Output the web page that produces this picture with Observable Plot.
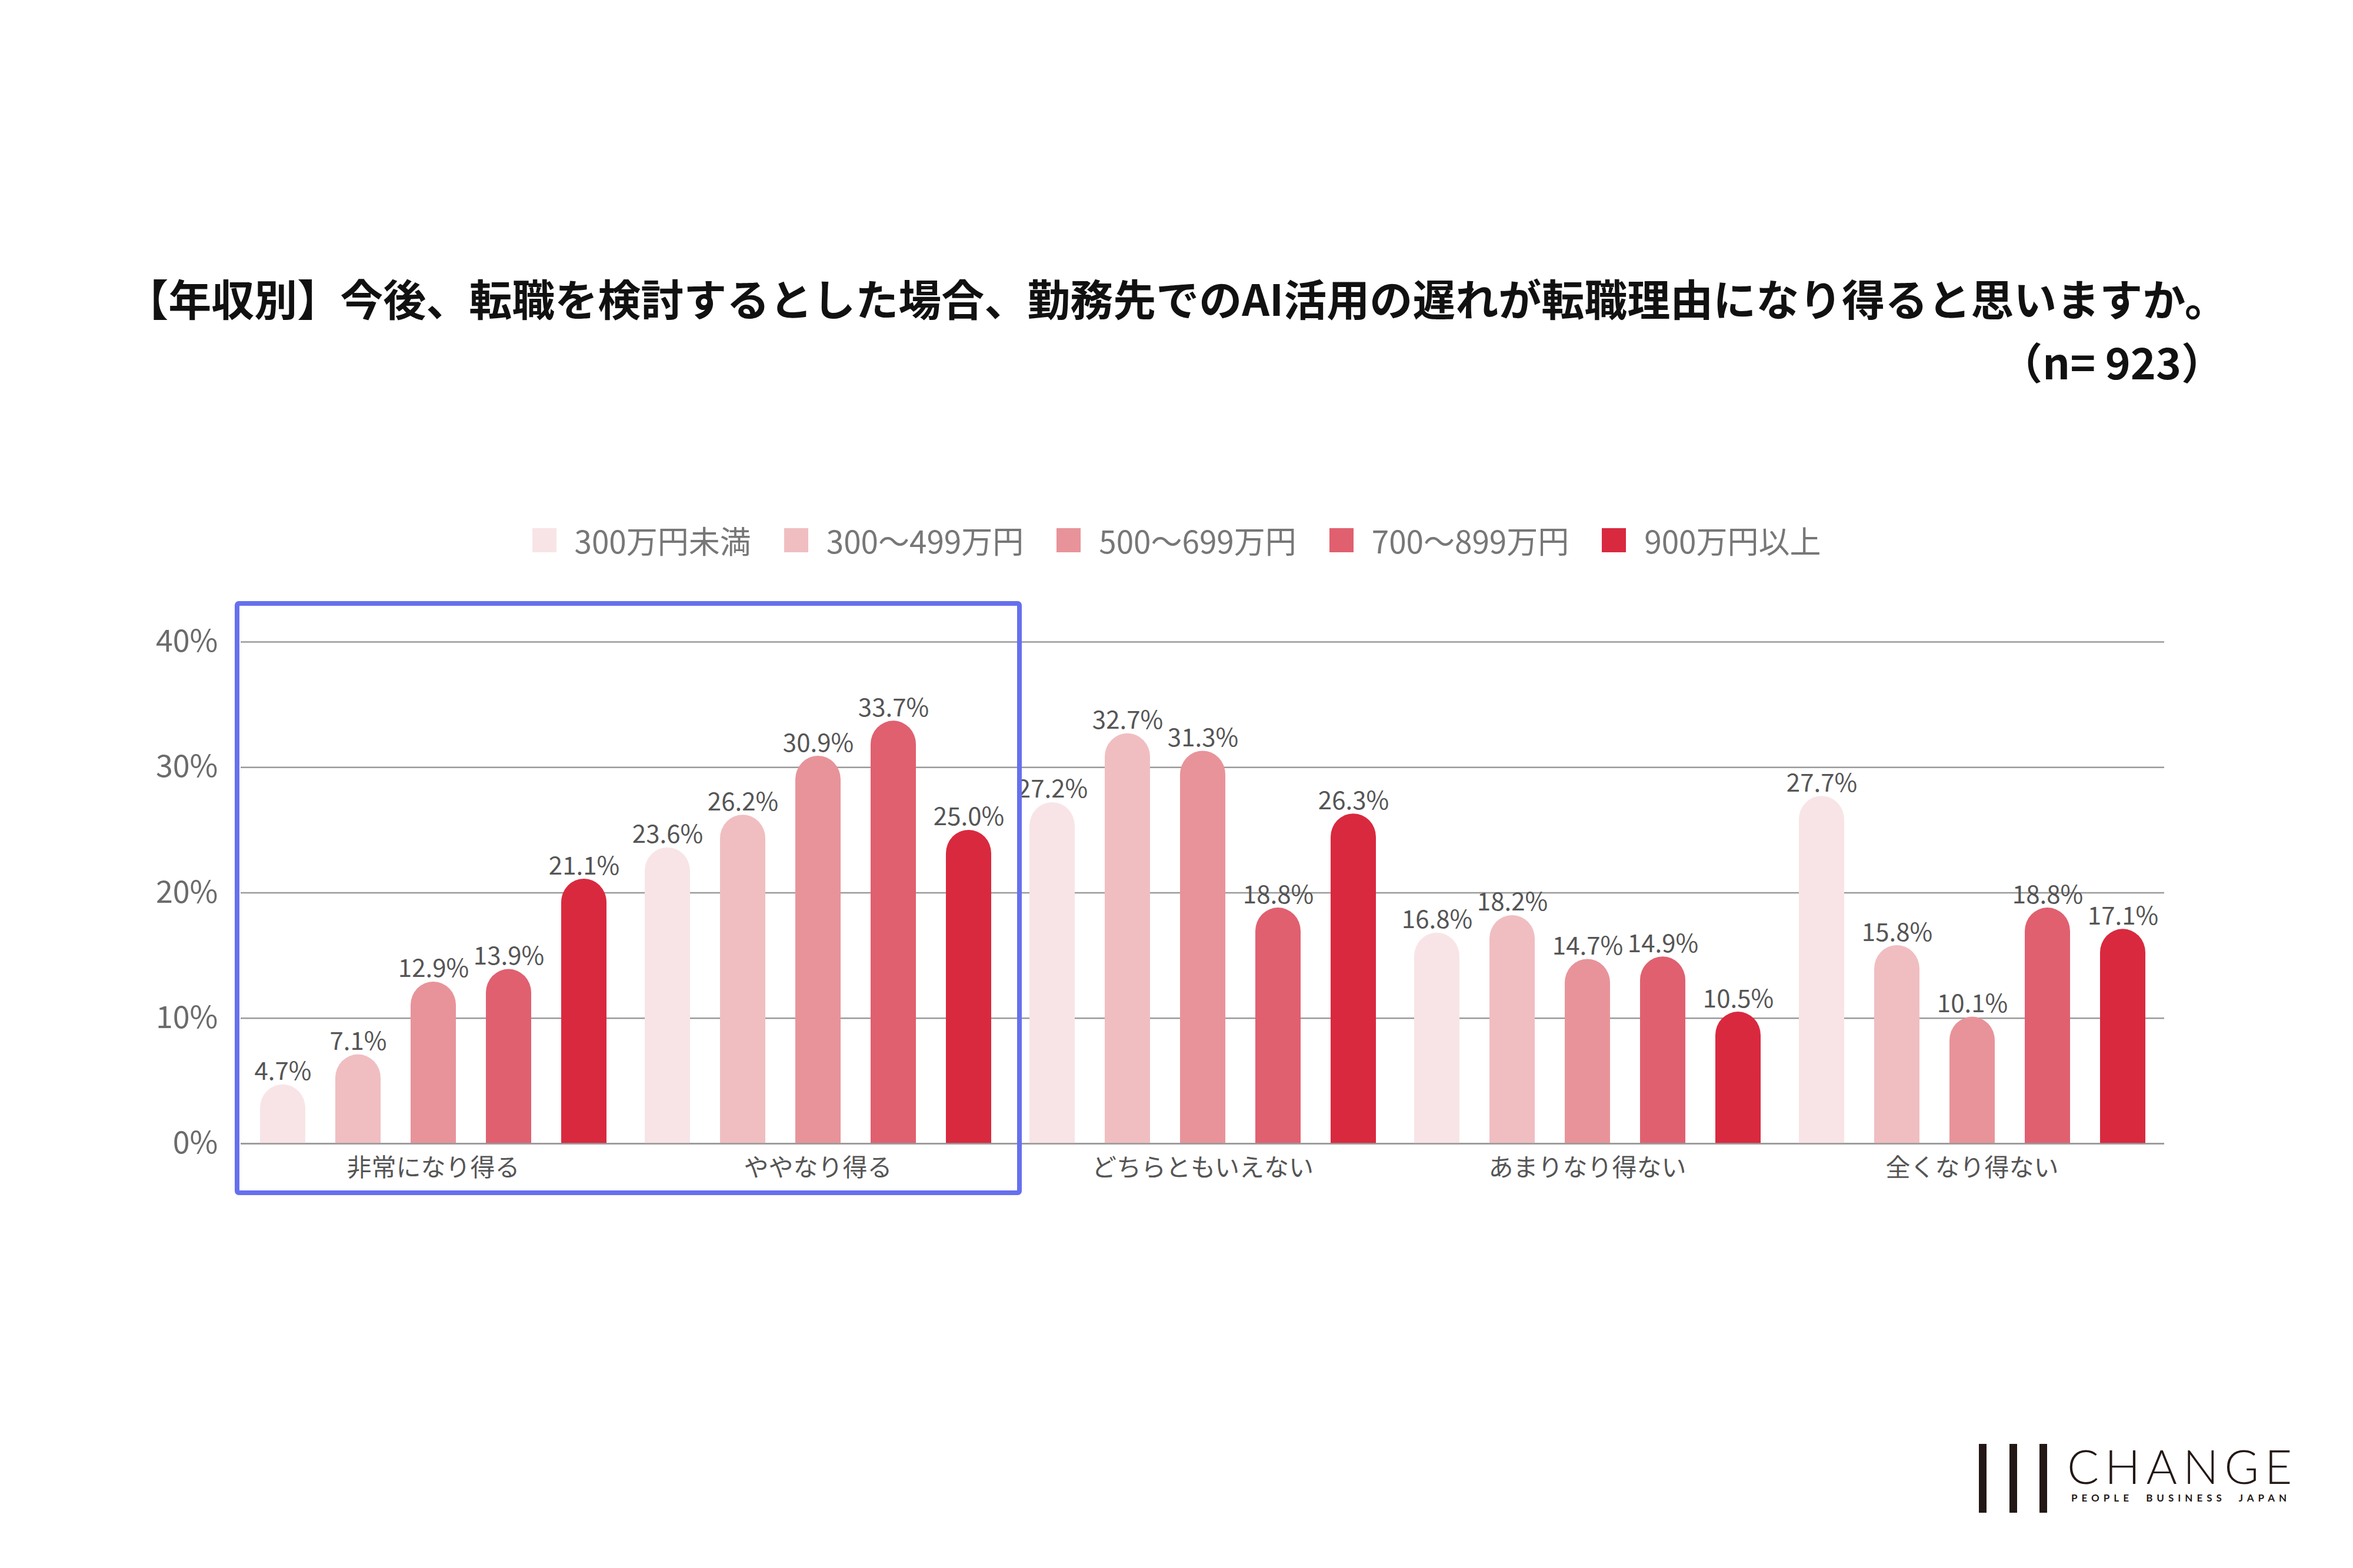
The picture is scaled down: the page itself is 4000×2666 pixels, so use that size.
<!DOCTYPE html>
<html>
<head>
<meta charset="utf-8">
<script src="https://cdn.jsdelivr.net/npm/d3@7"></script>
<script src="https://cdn.jsdelivr.net/npm/@observablehq/plot@0.6"></script>
<style>
  html, body { margin: 0; padding: 0; background: #fff; }
  #page { position: relative; width: 4000px; height: 2666px; background: #fff; font-family: "Noto Sans CJK JP", "Noto Sans", sans-serif; overflow: hidden; }
  #title { position: absolute; left: 0; width: 4000px; top: 455px; text-align: center; font-size: 73px; font-weight: 700; color: #111; line-height: 100px; }
  #n { position: absolute; right: 219px; top: 563px; font-size: 73px; font-weight: 700; color: #111; line-height: 100px; }
  #legend { position: absolute; left: 0; width: 4000px; top: 887px; display: flex; justify-content: center; align-items: center; }
  .item { display: flex; align-items: center; margin: 0 28px; }
  .sw { width: 41px; height: 41px; margin-right: 31px; }
  .lab { font-size: 53px; color: #777; line-height: 62px; }
  #chart { position: absolute; left: 0; top: 1000px; }
  #logo { position: absolute; left: 3364px; top: 2455px; width: 560px; height: 130px; }
  .bar { position: absolute; top: 0; width: 13px; height: 117px; background: #231815; }
  #change { position: absolute; left: 150px; top: -8px; font-family: Lato, "Noto Sans", sans-serif; font-weight: 300; font-size: 80px; letter-spacing: 10px; color: #231815; line-height: 90px; }
  #sub { position: absolute; left: 157px; top: 82px; font-family: Lato, "Noto Sans", sans-serif; font-weight: 700; font-size: 17px; letter-spacing: 7px; color: #231815; line-height: 20px; white-space: pre; }
</style>
</head>
<body>
<div id="page">
  <div id="title">【年収別】今後、転職を検討するとした場合、勤務先でのAI活用の遅れが転職理由になり得ると思いますか。</div>
  <div id="n">（n= 923）</div>
  <div id="legend"></div>
  <div id="chart"></div>
  <div id="logo">
    <div class="bar" style="left:0px"></div>
    <div class="bar" style="left:52px"></div>
    <div class="bar" style="left:103px"></div>
    <div id="change">CHANGE</div>
    <div id="sub">PEOPLE  BUSINESS  JAPAN</div>
  </div>
</div>
<script>
// ---- data ----
const categories = ["非常になり得る", "ややなり得る", "どちらともいえない", "あまりなり得ない", "全くなり得ない"];
const seriesNames = ["300万円未満", "300〜499万円", "500〜699万円", "700〜899万円", "900万円以上"];
const under300   = [4.7, 23.6, 27.2, 16.8, 27.7];
const from300    = [7.1, 26.2, 32.7, 18.2, 15.8];
const from500    = [12.9, 30.9, 31.3, 14.7, 10.1];
const from700    = [13.9, 33.7, 18.8, 14.9, 18.8];
const over900    = [21.1, 25.0, 26.3, 10.5, 17.1];
const colors = ["#F8E4E6", "#F0BEC1", "#E8939A", "#E06070", "#D9293F"];
const yTicks = [0, 10, 20, 30, 40];

const seriesValues = [under300, from300, from500, from700, over900];
const data = [];
categories.forEach((c, i) => {
  seriesNames.forEach((s, j) => {
    data.push({cat: c, ser: s, v: seriesValues[j][i]});
  });
});

// ---- legend ----
const legend = document.getElementById("legend");
seriesNames.forEach((s, j) => {
  const it = document.createElement("div");
  it.className = "item";
  const sw = document.createElement("div");
  sw.className = "sw";
  sw.style.background = colors[j];
  const lb = document.createElement("div");
  lb.className = "lab";
  lb.textContent = s;
  it.appendChild(sw); it.appendChild(lb);
  legend.appendChild(it);
});

// ---- chart ----
const chart = Plot.plot({
  width: 4000,
  height: 1100,
  marginLeft: 408,
  marginRight: 320,
  marginTop: 91,
  marginBottom: 156,
  style: {fontFamily: '"Noto Sans CJK JP", "Noto Sans", sans-serif', background: "transparent"},
  fx: {domain: categories, padding: 0, label: null, axis: null},
  x: {domain: seriesNames, paddingInner: 0.4, paddingOuter: 0.25, axis: null},
  y: {domain: [0, 40], label: null, axis: null},
  color: {domain: seriesNames, range: colors},
  marks: [
    Plot.gridY(yTicks, {stroke: "#9a9a9a", strokeOpacity: 1, strokeWidth: 2.5}),
    Plot.axisY(yTicks, {tickSize: 0, tickPadding: 39, fontSize: 52, fill: "#6b6b6b", tickFormat: d => d + "%", label: null}),
    Plot.axisFx({anchor: "bottom", tickSize: 0, tickPadding: 26, fontSize: 42, fill: "#555", label: null}),
    Plot.barY(data, {fx: "cat", x: "ser", y: "v", fill: "ser", rx: 40}),
    Plot.barY(data, {fx: "cat", x: "ser", y1: 0, y2: d => d.v / 2, fill: "ser"}),
    Plot.text(data, {fx: "cat", x: "ser", y: "v", text: d => d.v.toFixed(1) + "%", dy: -8, lineAnchor: "bottom", fontSize: 42, fill: "#555"}),
    Plot.ruleY([0], {stroke: "#9a9a9a", strokeWidth: 2.5})
  ]
});
document.getElementById("chart").appendChild(chart);

// ---- highlight box around the first two categories ----
const fx = chart.scale("fx");
const y = chart.scale("y");
const svg = d3.select(chart.tagName.toLowerCase() === "svg" ? chart : chart.querySelector("svg"));
const bx0 = fx.apply(categories[0]) - 6;
const bx1 = fx.apply(categories[1]) + fx.bandwidth + 16;
const by0 = y.apply(40) - 65;
const by1 = y.apply(0) + 84;
svg.append("rect")
  .attr("x", bx0).attr("y", by0)
  .attr("width", bx1 - bx0).attr("height", by1 - by0)
  .attr("fill", "none").attr("stroke", "#6670EE").attr("stroke-width", 8).attr("rx", 3);
</script>
</body>
</html>
